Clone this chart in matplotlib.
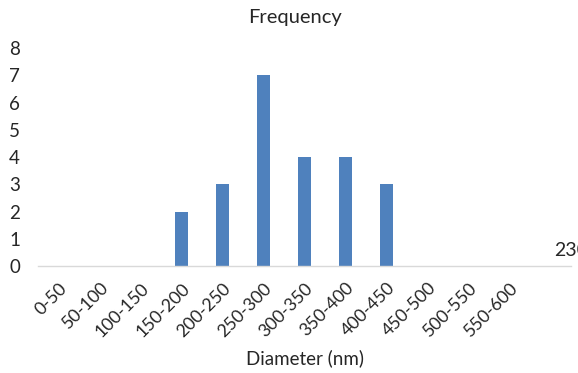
import matplotlib
matplotlib.use('Agg')
import matplotlib.pyplot as plt
import matplotlib.transforms as mtransforms

# diameter bins and counts
bins = ['0-50', '50-100', '100-150', '150-200', '200-250', '250-300',
        '300-350', '350-400', '400-450', '450-500', '500-550', '550-600', '']
counts = [0, 0, 0, 2, 3, 7, 4, 4, 3, 0, 0, 0, 0]
y_ticks = [0, 1, 2, 3, 4, 5, 6, 7, 8]
stray_label = '230'

plt.rcParams['font.family'] = ['Lato', 'DejaVu Sans']
txt = '#262626'

fig = plt.figure(figsize=(5.78, 3.73), dpi=100)
ax = fig.add_axes([38 / 578, 1 - 266 / 373, 533 / 578, 218 / 373])

x = list(range(len(bins)))
ax.bar(x, counts, width=0.33, color='#4f81bd')

ax.set_xlim(-0.5, len(bins) - 0.5)
ax.set_ylim(0, 8)
ax.set_yticks(y_ticks)
ax.set_yticklabels([str(v) for v in y_ticks], fontsize=13.5, color=txt)
ax.tick_params(axis='y', length=0, pad=13)

ax.set_xticks(x)
ax.set_xticklabels(bins, rotation=45, ha='right', va='top',
                   rotation_mode='anchor', fontsize=12.8, color=txt)
ax.tick_params(axis='x', length=0, pad=10)
shift = mtransforms.ScaledTranslation(0, 0, fig.dpi_scale_trans)
for lab in ax.get_xticklabels():
    lab.set_transform(lab.get_transform() + shift)

for s in ['top', 'right', 'left']:
    ax.spines[s].set_visible(False)
ax.spines['bottom'].set_color('#d9d9d9')
ax.spines['bottom'].set_linewidth(1.0)

fig.text(295 / 578, 1 - 17 / 373, 'Frequency', ha='center', va='center',
         fontsize=14.5, color=txt)
fig.text(305 / 578, 1 - 358 / 373, 'Diameter (nm)', ha='center', va='center',
         fontsize=13.5, color=txt)
fig.text(554 / 578, 1 - 250 / 373, stray_label, ha='left', va='center',
         fontsize=14, color=txt)

fig.savefig('out.png', dpi=100)
